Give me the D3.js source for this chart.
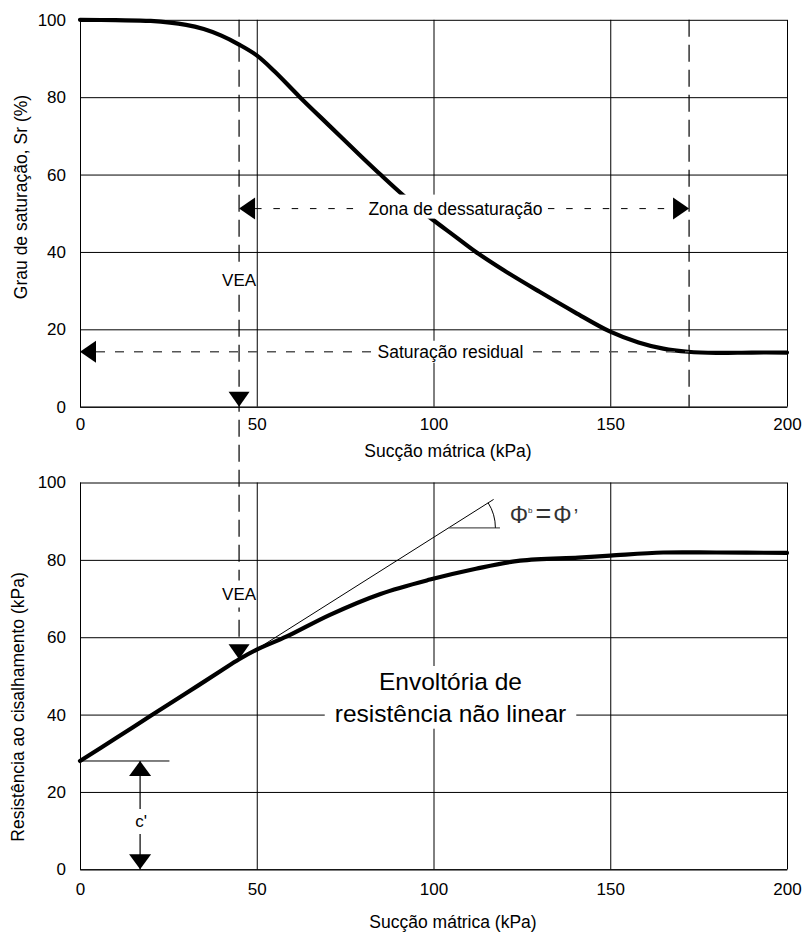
<!DOCTYPE html>
<html>
<head>
<meta charset="utf-8">
<script src="https://cdn.jsdelivr.net/npm/d3@7"></script>
<style>
  body { margin: 0; background: #fff; }
  svg { display: block; font-family: "Liberation Sans", Arial, sans-serif; }
</style>
</head>
<body>
<svg id="chart" width="803" height="933"></svg>
<script>
// Soil-water retention curve: matric suction (kPa) vs degree of saturation (%)
const suctionSr  = [0, 10, 20, 30, 35, 40, 45, 50, 55, 62, 70, 80, 85, 92, 99, 106, 112, 120, 130, 140, 150, 158, 165, 172, 180, 190, 200];
const saturation = [100, 99.9, 99.7, 98.7, 97.6, 95.9, 93.6, 90.8, 86.7, 80.2, 73.1, 64.3, 60.0, 54.2, 48.9, 44.1, 40, 35.2, 29.7, 24.4, 19.4, 16.6, 15.0, 14.2, 13.9, 14.0, 14.0];

// Unsaturated shear strength envelope: matric suction (kPa) vs shear strength (kPa)
const suctionTau    = [0, 10, 20, 30, 40, 45, 50, 58.5, 70.7, 85, 99, 112, 124.5, 141, 150, 165, 180, 200];
const shearStrength = [28, 33.8, 39.7, 45.5, 51.4, 54.3, 56.8, 60.2, 65.8, 71.2, 74.9, 77.7, 79.8, 80.6, 81.1, 81.9, 81.9, 81.8];

// Axis ticks
const xTickValues = [0, 50, 100, 150, 200];
const yTickValues = [0, 20, 40, 60, 80, 100];

// Key points of the curves
const airEntryValue = 45;          // VEA (kPa)
const residualSuction = 172.3;     // start of residual saturation (kPa)
const residualSaturation = 14.2;   // residual Sr (%)
const desaturationLevel = 51.2;    // height of the desaturation-zone arrow (%)
const cohesion = 28;               // c' (kPa)
const cohesionMarkerSuction = 17;  // where the c' dimension is drawn
const cohesionGuideEnd = 25.3;
const tangentSlope = 0.578;        // tan(phi_b) = tan(phi')
const tangentRange = [46, 117];
const angleMarkerRange = [104.3, 118.8];

const svg = d3.select("#chart");
const left = 80, right = 787;

const x = d3.scaleLinear().domain([0, 200]).range([left, right]);
const ySr = d3.scaleLinear().domain([0, 100]).range([406.7, 19.8]);
const yTau = d3.scaleLinear().domain([0, 100]).range([869.3, 482.5]);

const FONT = 17;

function drawGrid(yScale, xPad) {
  const top = yScale(100), bottom = yScale(0);
  const gx = svg.append("g")
    .attr("transform", `translate(0,${bottom})`)
    .call(d3.axisBottom(x).tickValues(xTickValues)
      .tickSize(-(bottom - top)).tickSizeOuter(0).tickPadding(xPad));
  const gy = svg.append("g")
    .attr("transform", `translate(${left},0)`)
    .call(d3.axisLeft(yScale).tickValues(yTickValues)
      .tickSize(-(right - left)).tickSizeOuter(0).tickPadding(14));
  [gx, gy].forEach(g => {
    g.selectAll("line").attr("stroke", "#000").attr("stroke-width", 1);
    g.select(".domain").attr("stroke", "#000");
    g.selectAll("text").attr("font-size", FONT).attr("fill", "#000")
      .attr("font-family", '"Liberation Sans", Arial, sans-serif');
  });
}

drawGrid(ySr, 11);
drawGrid(yTau, 14);

// Curves
const lineSr = d3.line().x((d, i) => x(suctionSr[i])).y(d => ySr(d)).curve(d3.curveCatmullRom.alpha(0.5));
const lineTau = d3.line().x((d, i) => x(suctionTau[i])).y(d => yTau(d)).curve(d3.curveCatmullRom.alpha(0.5));

svg.append("path").datum(saturation).attr("d", lineSr)
  .attr("fill", "none").attr("stroke", "#000").attr("stroke-width", 4.2)
  .attr("stroke-linecap", "round").attr("stroke-linejoin", "round");

// Tangent line at the start of the envelope (phi_b = phi')
const tangentY = s => cohesion + tangentSlope * s;
svg.append("line")
  .attr("x1", x(tangentRange[0])).attr("y1", yTau(tangentY(tangentRange[0])))
  .attr("x2", x(tangentRange[1])).attr("y2", yTau(tangentY(tangentRange[1])))
  .attr("stroke", "#000").attr("stroke-width", 1);

svg.append("path").datum(shearStrength).attr("d", lineTau)
  .attr("fill", "none").attr("stroke", "#000").attr("stroke-width", 4.2)
  .attr("stroke-linecap", "round").attr("stroke-linejoin", "round");

// Angle marker for phi_b
const angleY = tangentY(angleMarkerRange[0]);
const cx = x(angleMarkerRange[0]), cy = yTau(angleY);
svg.append("line")
  .attr("x1", cx).attr("y1", cy).attr("x2", x(angleMarkerRange[1])).attr("y2", cy)
  .attr("stroke", "#555").attr("stroke-width", 1.2);
const tanAngle = Math.atan2(yTau(0) - yTau(tangentSlope * 10), x(10) - x(0));
const r = 46.7;
svg.append("path")
  .attr("d", `M${cx + r},${cy} A${r},${r} 0 0 0 ${cx + r * Math.cos(tanAngle)},${cy - r * Math.sin(tanAngle)}`)
  .attr("fill", "none").attr("stroke", "#000").attr("stroke-width", 1);

const phiText = svg.append("text").attr("x", cx + 61).attr("y", cy - 5)
  .attr("fill", "#333").attr("font-size", 23);
phiText.append("tspan").text("Φ");
phiText.append("tspan").attr("font-size", 8).attr("dy", -10).text("b");
phiText.append("tspan").attr("font-size", 27).attr("dy", 10).attr("dx", 3).text("=");
phiText.append("tspan").attr("dx", 2).text("Φ");
phiText.append("tspan").attr("font-size", 20).attr("dx", 2).text("’");

// Dashed guide lines
const vx = x(airEntryValue);
const tauAtVEA = shearStrength[suctionTau.indexOf(airEntryValue)];
svg.append("line")
  .attr("x1", vx).attr("y1", ySr(100)).attr("x2", vx).attr("y2", yTau(tauAtVEA) - 15)
  .attr("stroke", "#000").attr("stroke-width", 1.2).attr("stroke-dasharray", "17,8");

svg.append("line")
  .attr("x1", x(residualSuction)).attr("y1", ySr(100)).attr("x2", x(residualSuction)).attr("y2", ySr(0))
  .attr("stroke", "#000").attr("stroke-width", 1.2).attr("stroke-dasharray", "17,8");

svg.append("line")
  .attr("x1", x(airEntryValue) + 16).attr("y1", ySr(desaturationLevel))
  .attr("x2", x(residualSuction) - 16).attr("y2", ySr(desaturationLevel))
  .attr("stroke", "#000").attr("stroke-width", 1).attr("stroke-dasharray", "6.5,11.8");

svg.append("line")
  .attr("x1", x(0) + 16).attr("y1", ySr(residualSaturation))
  .attr("x2", x(residualSuction)).attr("y2", ySr(residualSaturation))
  .attr("stroke", "#555").attr("stroke-width", 1.3).attr("stroke-dasharray", "9,10");

// c' dimension
const cxm = x(cohesionMarkerSuction);
svg.append("line")
  .attr("x1", x(0)).attr("y1", yTau(cohesion)).attr("x2", x(cohesionGuideEnd)).attr("y2", yTau(cohesion))
  .attr("stroke", "#000").attr("stroke-width", 1);
svg.append("line")
  .attr("x1", cxm).attr("y1", yTau(cohesion)).attr("x2", cxm).attr("y2", yTau(0))
  .attr("stroke", "#000").attr("stroke-width", 1.2);

// Labels with white backing that interrupts lines beneath them
function label(txt, tx, ty, size, opts = {}) {
  const g = svg.append("g");
  const rect = g.append("rect").attr("fill", "#fff");
  const t = g.append("text").attr("x", tx).attr("y", ty)
    .attr("text-anchor", "middle").attr("font-size", size).attr("fill", "#000");
  const lines = Array.isArray(txt) ? txt : [txt];
  lines.forEach((l, i) => t.append("tspan").attr("x", tx).attr("dy", i ? (opts.lh || size * 1.3) : 0).text(l));
  const bb = t.node().getBBox();
  const px = opts.px ?? 5, pt = opts.pt ?? 1, pb = opts.pb ?? 1;
  if (opts.narrow) {
    rect.attr("x", tx - opts.narrow / 2).attr("width", opts.narrow);
  } else {
    rect.attr("x", bb.x - px).attr("width", bb.width + 2 * px);
  }
  rect.attr("y", bb.y - pt).attr("height", bb.height + pt + pb);
  return g;
}

label("Zona de dessaturação", 455.5, ySr(desaturationLevel) + 6, 17.5, { px: 5, pt: 4, pb: 0 });
label("Saturação residual", 450.5, ySr(residualSaturation) + 6, 17.5, { px: 5 });
label("VEA", vx, 285.5, 17, { narrow: 10, pt: 4, pb: 4 });
label("VEA", vx, 599.5, 17, { narrow: 10, pt: 4, pb: 4 });
label(["Envoltória de", "resistência não linear"], 450.5, 690, 24.5, { px: 10, pt: 2, pb: 2, lh: 31.7 });
label("c'", cxm + 1, 827, 17, { narrow: 10, pt: 3, pb: 3 });

// Arrow heads
function tri(tipX, tipY, dir, len, half) {
  let pts;
  if (dir === "down") pts = [[tipX, tipY], [tipX - half, tipY - len], [tipX + half, tipY - len]];
  if (dir === "up") pts = [[tipX, tipY], [tipX - half, tipY + len], [tipX + half, tipY + len]];
  if (dir === "left") pts = [[tipX, tipY], [tipX + len, tipY - half], [tipX + len, tipY + half]];
  if (dir === "right") pts = [[tipX, tipY], [tipX - len, tipY - half], [tipX - len, tipY + half]];
  svg.append("path").attr("d", "M" + pts.map(p => p.join(",")).join("L") + "Z").attr("fill", "#000");
}
tri(vx, ySr(0), "down", 15, 10.5);
tri(vx, yTau(tauAtVEA), "down", 15, 10.5);
tri(x(airEntryValue), ySr(desaturationLevel), "left", 16, 11);
tri(x(residualSuction), ySr(desaturationLevel), "right", 16, 11);
tri(x(0), ySr(residualSaturation), "left", 16, 11);
tri(cxm, yTau(cohesion), "up", 15, 11);
tri(cxm, yTau(0), "down", 15, 11);

// Axis titles
svg.append("text").attr("x", 448).attr("y", 457).attr("text-anchor", "middle")
  .attr("font-size", 17.5).text("Sucção mátrica (kPa)");
svg.append("text").attr("x", 453).attr("y", 928).attr("text-anchor", "middle")
  .attr("font-size", 17.5).text("Sucção mátrica (kPa)");
svg.append("text").attr("transform", "translate(27,197) rotate(-90)").attr("text-anchor", "middle")
  .attr("font-size", 17.5).text("Grau de saturação, Sr (%)");
svg.append("text").attr("transform", "translate(24,707) rotate(-90)").attr("text-anchor", "middle")
  .attr("font-size", 17.5).text("Resistência ao cisalhamento (kPa)");
</script>
</body>
</html>
